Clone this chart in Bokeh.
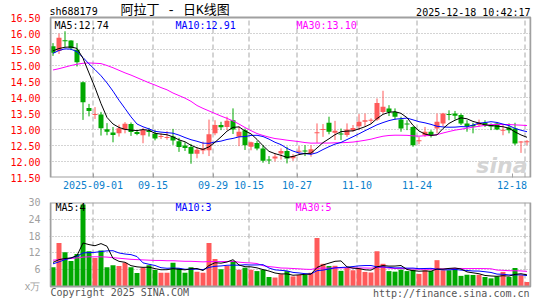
import numpy as np
import pandas as pd
from bokeh.plotting import figure
from bokeh.layouts import column
from bokeh.models import Range1d, FixedTicker, Label, NumeralTickFormatter
from bokeh.embed import file_html
from bokeh.resources import INLINE

# ---------------- data ----------------
dates = [
    "2025-08-21", "2025-08-22", "2025-08-25", "2025-08-26", "2025-08-27", "2025-08-28", "2025-08-29",
    "2025-09-01", "2025-09-02", "2025-09-03", "2025-09-04", "2025-09-05",
    "2025-09-08", "2025-09-09", "2025-09-10", "2025-09-11", "2025-09-12",
    "2025-09-15", "2025-09-16", "2025-09-17", "2025-09-18", "2025-09-19",
    "2025-09-22", "2025-09-23", "2025-09-24", "2025-09-25", "2025-09-26",
    "2025-09-29", "2025-09-30", "2025-10-09", "2025-10-10",
    "2025-10-13", "2025-10-14", "2025-10-15", "2025-10-16", "2025-10-17",
    "2025-10-20", "2025-10-21", "2025-10-22", "2025-10-23", "2025-10-24",
    "2025-10-27", "2025-10-28", "2025-10-29", "2025-10-30", "2025-10-31",
    "2025-11-03", "2025-11-04", "2025-11-05", "2025-11-06", "2025-11-07",
    "2025-11-10", "2025-11-11", "2025-11-12", "2025-11-13", "2025-11-14",
    "2025-11-17", "2025-11-18", "2025-11-19", "2025-11-20", "2025-11-21",
    "2025-11-24", "2025-11-25", "2025-11-26", "2025-11-27", "2025-11-28",
    "2025-12-01", "2025-12-02", "2025-12-03", "2025-12-04", "2025-12-05",
    "2025-12-08", "2025-12-09", "2025-12-10", "2025-12-11", "2025-12-12",
    "2025-12-15", "2025-12-16", "2025-12-17", "2025-12-18",
]
opens = [15.60, 15.45, 15.78, 15.78, 15.49, 14.48, 13.67, 13.45, 13.47, 13.01,
         12.91, 12.88, 12.99, 13.17, 12.92, 12.82, 12.97, 12.87, 12.77, 12.74,
         12.78, 12.63, 12.50, 12.45, 12.24, 12.34, 12.35, 12.88, 13.14, 13.08,
         13.29, 12.77, 12.98, 12.46, 12.58, 12.41, 12.06, 12.09, 12.25, 12.33,
         12.10, 12.31, 12.34, 12.25, 12.89, 12.99, 13.21, 12.90, 12.87, 12.83,
         12.98, 13.10, 13.24, 13.28, 13.31, 13.55, 13.66, 13.55, 13.31, 13.18,
         13.08, 12.64, 12.82, 12.93, 13.03, 13.19, 13.48, 13.50, 13.45, 13.19,
         13.14, 13.14, 13.21, 13.14, 13.19, 12.97, 13.06, 13.03, 12.60, 12.61]
highs = [15.70, 16.00, 16.07, 15.79, 15.70, 14.50, 13.80, 13.70, 13.55, 13.20,
         13.08, 13.15, 13.23, 13.22, 12.98, 13.05, 13.05, 12.98, 12.88, 12.95,
         13.02, 12.74, 12.60, 12.55, 12.45, 12.62, 13.31, 13.29, 13.24, 13.40,
         13.66, 13.10, 13.03, 12.62, 12.65, 12.51, 12.17, 12.25, 12.41, 12.46,
         12.23, 12.48, 12.51, 12.51, 13.19, 13.17, 13.40, 13.27, 13.03, 13.19,
         13.14, 13.48, 13.50, 13.35, 13.97, 14.21, 13.76, 13.66, 13.40, 13.29,
         13.10, 12.77, 13.08, 12.98, 13.50, 13.52, 13.60, 13.58, 13.50, 13.29,
         13.21, 13.31, 13.29, 13.19, 13.21, 13.16, 13.19, 13.21, 12.64, 12.67]
lows = [15.30, 15.36, 15.58, 15.48, 14.97, 13.30, 13.41, 13.33, 12.81, 12.82,
        12.60, 12.78, 12.88, 12.80, 12.82, 12.57, 12.78, 12.66, 12.70, 12.68,
        12.52, 12.30, 12.33, 11.93, 12.10, 12.23, 12.17, 12.82, 12.98, 12.98,
        12.86, 12.48, 12.36, 12.35, 12.35, 11.96, 11.92, 12.00, 12.06, 11.94,
        12.02, 12.23, 12.17, 12.15, 12.58, 12.77, 12.85, 12.67, 12.67, 12.77,
        12.93, 12.98, 13.10, 13.19, 13.27, 13.50, 13.42, 13.31, 12.93, 12.98,
        12.46, 12.54, 12.77, 12.75, 12.88, 13.10, 13.29, 13.31, 13.14, 12.93,
        12.88, 13.08, 13.08, 12.98, 12.98, 12.82, 12.88, 12.51, 12.27, 12.51]
closes = [15.40, 15.87, 15.76, 15.54, 15.10, 13.85, 13.58, 13.48, 13.04, 12.93,
          12.83, 13.04, 13.18, 12.92, 12.86, 12.99, 12.92, 12.72, 12.79, 12.76,
          12.66, 12.45, 12.42, 12.24, 12.37, 12.41, 12.85, 13.14, 13.07, 13.27,
          13.00, 12.93, 12.51, 12.60, 12.41, 12.02, 12.04, 12.16, 12.33, 12.09,
          12.17, 12.33, 12.32, 12.38, 12.91, 13.01, 12.93, 12.96, 12.85, 13.00,
          13.05, 13.24, 13.29, 13.30, 13.83, 13.71, 13.55, 13.40, 13.03, 13.16,
          12.51, 12.66, 12.93, 12.82, 13.24, 13.50, 13.46, 13.43, 13.19, 13.09,
          13.09, 13.21, 13.14, 13.09, 13.00, 12.99, 12.98, 12.56, 12.62, 12.63]
volumes = [6.9, 15.5, 12.2, 9.1, 11.6, 29.3, 12.6, 10.2, 12.9, 6.9,
           7.6, 7.3, 8.5, 6.9, 4.8, 6.7, 7.6, 5.9, 4.9, 4.9,
           8.5, 6.5, 4.9, 6.9, 5.3, 4.9, 15.5, 9.8, 6.2, 7.3,
           9.1, 6.0, 6.7, 6.0, 5.5, 6.0, 3.4, 3.2, 4.4, 5.5,
           3.6, 4.1, 4.1, 4.9, 17.3, 8.1, 7.3, 7.4, 5.6, 6.7,
           5.8, 6.5, 5.2, 5.0, 12.6, 8.1, 5.5, 5.3, 6.0, 5.5,
           6.0, 4.5, 5.8, 5.5, 9.4, 5.8, 5.8, 6.5, 3.8, 4.2,
           4.1, 4.2, 3.4, 2.9, 3.6, 5.2, 3.4, 6.6, 4.0, 1.6]

# moving-average values before enough in-window history exists
ma5_head = [15.46, 15.53, 15.57, 15.58]
ma10_head = [15.38, 15.47, 15.52, 15.51, 15.43, 15.25, 15.05, 14.87, 14.68]
ma30_head = [14.86, 14.90, 14.95, 15.00, 15.04, 15.07, 15.08, 15.07, 15.06, 15.00,
             14.93, 14.85, 14.77, 14.70, 14.62, 14.54, 14.46, 14.39, 14.31, 14.24,
             14.14, 14.06, 13.98, 13.88, 13.75, 13.66, 13.58, 13.50, 13.42]
vma5_head = [8.6, 9.6, 10.0, 10.2]
vma10_head = [8.1, 8.8, 9.6, 10.2, 10.8, 12.0, 12.1, 12.2, 12.5]
vma30_head = [9.4, 9.6, 9.8, 10.0, 10.2, 10.5, 10.6, 10.6, 10.6, 10.5,
              10.3, 10.1, 9.9, 9.7, 9.6, 9.5, 9.4, 9.3, 9.3, 9.2,
              9.2, 9.1, 9.0, 9.0, 8.9, 8.8, 8.9, 8.9, 8.9]

tick_dates = ["2025-09-01", "2025-09-15", "2025-09-29", "2025-10-15",
              "2025-10-27", "2025-11-10", "2025-11-24", "2025-12-18"]
tick_labels = ["2025-09-01", "09-15", "09-29", "10-15", "10-27", "11-10", "11-24", "12-18"]
vol_grid_dates = ["2025-09-01", "2025-09-15", "2025-10-15", "2025-11-10", "2025-11-24", "2025-12-18"]
price_ticks = [11.5, 12.0, 12.5, 13.0, 13.5, 14.0, 14.5, 15.0, 15.5, 16.0, 16.5]
vol_ticks = [0, 6, 12, 18, 24, 30]
vol_unit_label = "x万"

code_text = "sh688179"
title_text = "阿拉丁 - 日K线图"
time_text = "2025-12-18 10:42:17"
ma_texts = ["MA5:12.74", "MA10:12.91", "MA30:13.10"]
vma_texts = ["MA5:4", "MA10:3", "MA30:5"]
copyright_text = "Copyright 2025 SINA.COM"
url_text = "http://finance.sina.com.cn"

# ---------------- derived ----------------
n = len(closes)
idx = np.arange(n)
o = np.array(opens); c = np.array(closes); h = np.array(highs); l = np.array(lows)
vol = np.array(volumes)

def ma(series, win, head):
    s = pd.Series(series).rolling(win).mean().to_numpy()
    s[:len(head)] = head
    return s

ma5 = ma(c, 5, ma5_head); ma10 = ma(c, 10, ma10_head); ma30 = ma(c, 30, ma30_head)
vma5 = ma(vol, 5, vma5_head); vma10 = ma(vol, 10, vma10_head); vma30 = ma(vol, 30, vma30_head)

RED = "#ff5a5a"; GREEN = "#00a800"
colors = [RED if cc >= oo else GREEN for oo, cc in zip(o, c)]
body_top = np.maximum(o, c); body_bot = np.minimum(o, c)
mid = (o + c) / 2
thin = (body_top - body_bot) < 1 / 32
body_top = np.where(thin, mid + 1 / 64, body_top)
body_bot = np.where(thin, mid - 1 / 64, body_bot)

pos = {d: i for i, d in enumerate(dates)}
off = -1 / 3
tick_x = [pos[d] + off for d in tick_dates]
label_x = list(tick_x)
label_x[-1] = pos[tick_dates[-1]] - 2.5  # keep last label inside the window
vol_grid_x = [pos[d] + off for d in vol_grid_dates]

# layout constants (pixels)
W = 545
LEFT, RIGHT = 49, 14
PX = 6.0                      # pixels per trading day
FRAME_W = W - LEFT - RIGHT
x0 = -3.5 / PX
XR = Range1d(x0, x0 + FRAME_W / PX)
HEAD = 17                     # header strip above the price box
PRICE_PX = 160
p_lo, p_hi = price_ticks[0], price_ticks[-1]
p_top = p_hi + HEAD * (p_hi - p_lo) / PRICE_PX
VOL_PX = 84
FOOT = 14
v_lo, v_hi = vol_ticks[0], vol_ticks[-1]
v_bot = v_lo - FOOT * (v_hi - v_lo) / VOL_PX

MONO = "DejaVu Sans Mono"
TITLE_FONT = "Liberation Mono, Noto Sans CJK SC"
GRID = "#a8a8a8"
BORDER = "#a0a0a0"

def style_common(f):
    f.outline_line_color = None
    f.background_fill_color = "white"
    f.border_fill_color = "white"
    f.xgrid.visible = False
    f.ygrid.grid_line_color = GRID
    f.ygrid.grid_line_dash = "1 2"
    for ax in f.yaxis:
        ax.axis_line_color = None
        ax.major_tick_line_color = None
        ax.minor_tick_line_color = None
        ax.major_label_standoff = 3
        ax.major_label_text_font = MONO
        ax.major_label_text_font_size = "10px"

def lab(f, x, y, text, color="#000000", size="10px", font=MONO, align="left", style="normal"):
    f.add_layout(Label(x=x, y=y, x_units="screen", y_units="screen", text=text,
                       text_color=color, text_font_size=size, text_font=font,
                       text_align=align, text_baseline="middle", text_font_style=style))

def box(f, lo, hi):
    f.quad(left=XR.start + 1 / PX, right=XR.end - 1 / PX, bottom=lo, top=hi,
           fill_color=None, line_color=BORDER, line_width=2)

# ---------------- main K-line panel ----------------
p = figure(width=W, height=HEAD + PRICE_PX + 19, x_range=XR, y_range=Range1d(p_lo, p_top),
           output_backend="svg", toolbar_location=None,
           min_border_left=LEFT, min_border_right=RIGHT, min_border_top=0, min_border_bottom=19)
style_common(p)
p.yaxis.ticker = FixedTicker(ticks=price_ticks)
p.yaxis.formatter = NumeralTickFormatter(format="0.00")
p.yaxis.major_label_text_color = "#ff0000"
p.ygrid.ticker = FixedTicker(ticks=price_ticks[1:-1])
xa = p.xaxis[0]
xa.ticker = FixedTicker(ticks=label_x)
xa.major_label_overrides = {x: t for x, t in zip(label_x, tick_labels)}
xa.axis_line_color = None
xa.minor_tick_line_color = None
xa.major_tick_line_color = BORDER
xa.major_tick_in = 4
xa.major_tick_out = 0
xa.major_label_standoff = 3
xa.major_label_text_font = MONO
xa.major_label_text_font_size = "10px"
xa.major_label_text_color = "#0a80cc"

p.segment(x0=tick_x, y0=p_lo, x1=tick_x, y1=p_hi, line_color=GRID, line_dash="5 3", line_width=1)
p.segment(x0=idx, y0=l, x1=idx, y1=h, color=colors, line_width=1)
p.vbar(x=idx, width=5 / 6, top=body_top, bottom=body_bot, fill_color=colors, line_color=None)
p.line(idx, ma30, color="#ff00ff", line_width=1)
p.line(idx, ma10, color="#0000ff", line_width=1)
p.line(idx, ma5, color="#000000", line_width=1)
box(p, p_lo, p_hi)

lab(p, 0, PRICE_PX + HEAD - 11, code_text, size="10px")
lab(p, 71, PRICE_PX + HEAD - 10, title_text, size="13px", font=TITLE_FONT)
lab(p, 481, PRICE_PX + HEAD - 12, time_text, align="right")
lab(p, 5, PRICE_PX + HEAD - 25, ma_texts[0], color="#000000")
lab(p, 126, PRICE_PX + HEAD - 25, ma_texts[1], color="#0000ff")
lab(p, 247, PRICE_PX + HEAD - 25, ma_texts[2], color="#ff00ff")
lab(p, 478, 12, "sina", color="#d4d4d4", size="22px", font="DejaVu Sans", align="right", style="bold italic")

# ---------------- volume panel ----------------
q = figure(width=W, height=6 + VOL_PX + FOOT, x_range=XR, y_range=Range1d(v_bot, v_hi),
           output_backend="svg", toolbar_location=None,
           min_border_left=LEFT, min_border_right=RIGHT, min_border_top=6, min_border_bottom=0)
style_common(q)
q.xaxis.visible = False
q.yaxis.ticker = FixedTicker(ticks=vol_ticks)
q.yaxis.major_label_overrides = {v: (vol_unit_label if v == 0 else str(v)) for v in vol_ticks}
q.yaxis.major_label_text_color = "#a0a0a0"
q.ygrid.ticker = FixedTicker(ticks=vol_ticks[1:-1])

q.segment(x0=vol_grid_x, y0=v_lo, x1=vol_grid_x, y1=v_hi, line_color=GRID, line_dash="5 3", line_width=1)
q.vbar(x=idx, width=5 / 6, top=vol, bottom=0, fill_color=colors, line_color=None)
q.line(idx, vma30, color="#ff00ff", line_width=1)
q.line(idx, vma10, color="#0000ff", line_width=1)
q.line(idx, vma5, color="#000000", line_width=1)
box(q, v_lo, v_hi)

lab(q, 6, FOOT + VOL_PX - 5, vma_texts[0], color="#000000")
lab(q, 126, FOOT + VOL_PX - 5, vma_texts[1], color="#0000ff")
lab(q, 246, FOOT + VOL_PX - 5, vma_texts[2], color="#ff00ff")
lab(q, 1, 8, copyright_text, color="#555555")
lab(q, 480, 7, url_text, color="#555555", align="right")

layout = column(p, q, spacing=0)
open("out.html", "w").write(file_html(layout, INLINE))
